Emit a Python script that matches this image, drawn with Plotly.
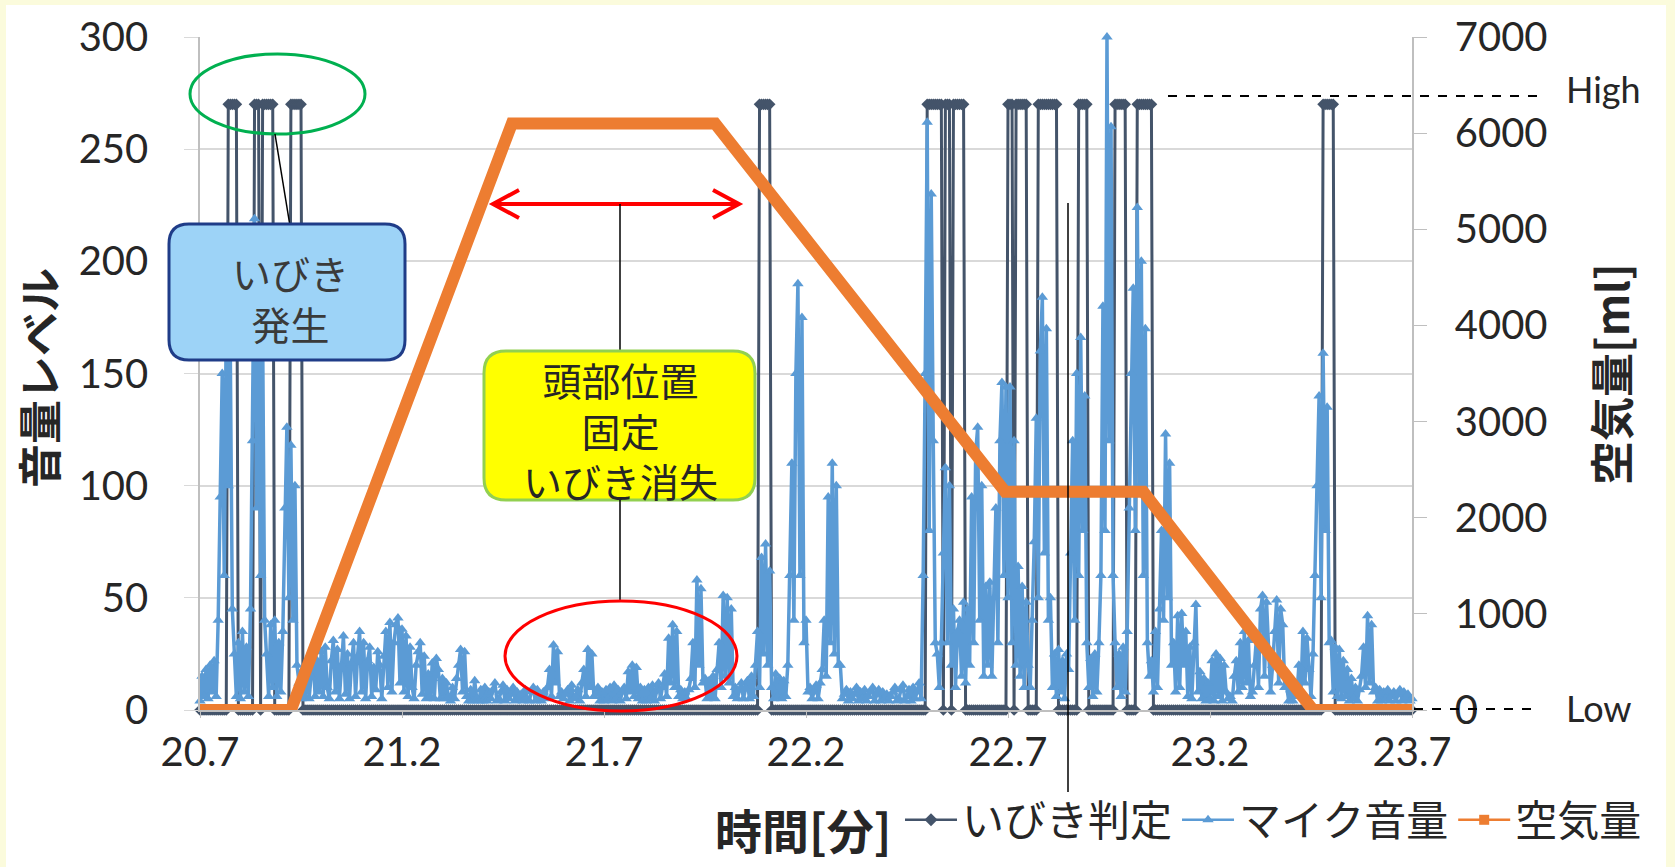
import plotly.graph_objects as go

# ---------------------------------------------------------------- data
# Microphone level, sampled every 0.005 min from 20.700 min
t_start = 20.7
t_step = 0.005
mic_level = [
    4, 15, 6, 18, 5, 20, 8, 22, 6, 40, 95, 150, 60, 175, 100, 160, 45, 25, 6, 30,             # 20.70
    5, 35, 8, 28, 6, 45, 120, 219, 90, 200, 60, 170, 40, 25, 6, 38, 10, 40, 6, 30,            # 20.80
    8, 35, 90, 126, 50, 118, 40, 100, 20, 12, 5, 18, 6, 20, 5, 15, 24, 6, 22, 8,              # 20.90
    26, 6, 28, 10, 5, 22, 31, 8, 27, 5, 20, 33, 7, 25, 5, 21, 30, 6, 24, 35,                  # 21.00
    8, 30, 5, 22, 28, 6, 19, 9, 26, 20, 5, 24, 35, 10, 39, 8, 30, 38, 41, 12,                 # 21.10
    36, 8, 33, 6, 28, 10, 5, 20, 26, 30, 7, 24, 5, 16, 6, 21, 5, 23, 18, 5,                   # 21.20
    14, 5, 12, 6, 4, 10, 5, 14, 20, 27, 8, 26, 6, 4, 9, 4, 13, 5, 4, 9,                       # 21.30
    4, 10, 4, 8, 5, 9, 12, 4, 5, 8, 11, 4, 9, 5, 7, 10, 4, 8, 5, 7,                           # 21.40
    4, 9, 5, 4, 8, 10, 4, 9, 5, 4, 8, 5, 10, 18, 6, 29, 12, 26, 6, 8,                         # 21.50
    5, 7, 9, 4, 11, 5, 6, 9, 4, 12, 18, 6, 27, 10, 25, 6, 7, 10, 4, 8,                        # 21.60
    4, 9, 5, 10, 4, 11, 5, 9, 4, 8, 10, 5, 17, 8, 20, 6, 19, 5, 10, 4,                        # 21.70
    9, 4, 10, 5, 11, 4, 9, 12, 5, 10, 16, 6, 32, 12, 38, 10, 35, 6, 9, 5,                     # 21.80
    8, 5, 9, 14, 30, 10, 58, 20, 54, 12, 14, 5, 13, 6, 15, 5, 18, 30, 10, 51,                 # 21.90
    15, 50, 12, 45, 6, 10, 5, 9, 12, 5, 10, 13, 5, 15, 6, 20, 35, 10, 68, 25,                 # 22.00
    74, 20, 62, 10, 5, 16, 6, 14, 5, 13, 6, 20, 60, 110, 40, 150, 190, 60, 175, 30,           # 22.10
    40, 8, 10, 5, 8, 11, 5, 12, 18, 40, 15, 95, 30, 110, 25, 100, 20, 20, 5, 7,               # 22.20
    9, 4, 8, 5, 7, 10, 4, 8, 5, 9, 4, 6, 8, 10, 4, 7, 9, 4, 8, 5,                             # 22.30
    7, 4, 6, 8, 10, 4, 5, 9, 11, 4, 6, 9, 4, 10, 5, 8, 12, 5, 60, 150,                        # 22.40
    262, 80, 230, 120, 30, 25, 10, 30, 70, 108, 30, 100, 20, 45, 10, 35, 40, 15, 48, 12,      # 22.50
    45, 20, 95, 30, 115, 126, 40, 100, 15, 55, 20, 57, 15, 50, 90, 30, 120, 146, 60, 144,     # 22.60
    50, 144, 30, 120, 20, 64, 15, 55, 10, 48, 20, 10, 40, 75, 130, 50, 160, 184, 70, 170,     # 22.70
    40, 50, 10, 25, 6, 27, 8, 22, 5, 25, 18, 70, 120, 40, 150, 60, 166, 80, 140, 30,          # 22.80
    10, 23, 6, 25, 8, 30, 60, 180, 80, 300, 120, 260, 60, 30, 10, 25, 6, 28, 8, 35,           # 22.90
    90, 150, 188, 80, 224, 100, 200, 60, 170, 30, 15, 22, 8, 35, 10, 45, 80, 40, 123, 50,     # 23.00
    110, 20, 30, 8, 42, 10, 43, 20, 35, 6, 28, 5, 30, 47, 8, 17, 5, 14, 4, 12,                # 23.10
    5, 22, 4, 25, 6, 23, 4, 20, 8, 5, 6, 4, 15, 22, 8, 30, 10, 35, 12, 31,                    # 23.20
    6, 8, 20, 32, 10, 45, 51, 15, 48, 25, 8, 20, 35, 49, 12, 45, 38, 10, 10, 4,               # 23.30
    9, 4, 12, 6, 20, 8, 35, 12, 32, 18, 6, 25, 60, 100, 140, 50, 159, 80, 135, 30,            # 23.40
    31, 8, 28, 6, 27, 5, 22, 6, 18, 4, 14, 5, 10, 4, 9, 15, 28, 10, 42, 12,                   # 23.50
    38, 8, 10, 4, 9, 4, 8, 5, 9, 4, 6, 8, 4, 7, 9, 4, 8, 5, 7, 4,                             # 23.60
    5,                                                                                        # 23.70
]
time_min = [round(t_start + i * t_step, 3) for i in range(len(mic_level))]

# Snore detection: start / end of each detected snore (minutes)
snore_on = [20.770, 20.835, 20.855, 20.925, 22.085, 22.500, 22.545, 22.565,
            22.700, 22.720, 22.775, 22.875, 22.965, 23.020, 23.480]
snore_off = [20.795, 20.850, 20.885, 20.955, 22.115, 22.540, 22.560, 22.595,
             22.715, 22.750, 22.825, 22.900, 22.995, 23.060, 23.510]
snore_high = 270

# Pillow air volume (ml)
air_time = [20.70, 20.925, 21.472, 21.975, 22.693, 23.035, 23.455, 23.70]
air_ml = [0, 0, 6100, 6100, 2270, 2270, 0, 0]

# x-axis tick labels
x_ticks = [20.7, 21.2, 21.7, 22.2, 22.7, 23.2, 23.7]

# ---------------------------------------------------------------- series
on_idx = [round((v - t_start) / t_step) for v in snore_on]
off_idx = [round((v - t_start) / t_step) for v in snore_off]
snore_level = []
for i in range(len(time_min)):
    high = any(a <= i < b for a, b in zip(on_idx, off_idx))
    snore_level.append(snore_high if high else 0)

C_SNORE = "#44546A"
C_MIC = "#5B9BD5"
C_AIR = "#ED7D31"
NUM_FONT = "Lato, 'Noto Sans CJK JP', sans-serif"
JP_FONT = "'Noto Sans CJK JP', sans-serif"
TXT = "#262626"

fig = go.Figure()
fig.add_trace(go.Scatter(
    x=time_min, y=snore_level, name="いびき判定", mode="lines+markers", cliponaxis=False,
    line=dict(color=C_SNORE, width=3), showlegend=False,
    marker=dict(symbol="diamond", size=9, color=C_SNORE, line=dict(width=0)),
))
fig.add_trace(go.Scatter(
    x=time_min, y=mic_level, name="マイク音量", mode="lines+markers", cliponaxis=False,
    line=dict(color=C_MIC, width=3.5), showlegend=False,
    marker=dict(symbol="triangle-up", size=10, color=C_MIC, line=dict(width=0)),
))
fig.add_trace(go.Scatter(
    x=air_time, y=air_ml, name="空気量", mode="lines", yaxis="y2", cliponaxis=False,
    line=dict(color=C_AIR, width=12), showlegend=False,
))

# legend keys: thin line with the series marker
for name, color, symbol in [("いびき判定", C_SNORE, "diamond"),
                            ("マイク音量", C_MIC, "triangle-up"),
                            ("空気量", C_AIR, "square")]:
    fig.add_trace(go.Scatter(
        x=[None], y=[None], name=name, mode="lines+markers",
        line=dict(color=color, width=2.5),
        marker=dict(symbol=symbol, size=10, color=color, line=dict(width=0)),
    ))

# ---------------------------------------------------------------- layout
W, H = 1675, 867
L, R, T, B = 200, 1412, 37, 710


def px(x):
    return (x - L) / (R - L)


def py(y):
    return (B - y) / (B - T)


def rounded_box(x0, y0, x1, y1, r):
    p = [
        f"M {px(x0 + r)},{py(y0)}", f"L {px(x1 - r)},{py(y0)}",
        f"Q {px(x1)},{py(y0)} {px(x1)},{py(y0 + r)}", f"L {px(x1)},{py(y1 - r)}",
        f"Q {px(x1)},{py(y1)} {px(x1 - r)},{py(y1)}", f"L {px(x0 + r)},{py(y1)}",
        f"Q {px(x0)},{py(y1)} {px(x0)},{py(y1 - r)}", f"L {px(x0)},{py(y0 + r)}",
        f"Q {px(x0)},{py(y0)} {px(x0 + r)},{py(y0)}", "Z",
    ]
    return " ".join(p)


def seg(x0, y0, x1, y1, color="black", width=1.5, dash="solid"):
    return dict(type="line", xref="paper", yref="paper",
                x0=px(x0), y0=py(y0), x1=px(x1), y1=py(y1),
                line=dict(color=color, width=width, dash=dash))


def oval(x0, y0, x1, y1, color):
    return dict(type="circle", xref="paper", yref="paper",
                x0=px(x0), y0=py(y1), x1=px(x1), y1=py(y0),
                line=dict(color=color, width=3))


def chevron(tx, ty, dx):
    d = (f"M {px(tx + dx)},{py(ty - 14)} L {px(tx)},{py(ty)} "
         f"L {px(tx + dx)},{py(ty + 14)}")
    return dict(type="path", xref="paper", yref="paper", path=d,
                line=dict(color="#FF0000", width=4))


shapes = [
    # white page on a pale yellow frame
    dict(type="rect", xref="paper", yref="paper", layer="below",
         x0=px(6), x1=px(1666), y0=py(867), y1=py(5),
         fillcolor="white", line=dict(width=0)),
    oval(190, 54, 365, 134, "#00B050"),
    seg(275, 134, 290, 226),
    dict(type="path", xref="paper", yref="paper", path=rounded_box(169, 224, 405, 360, 20),
         fillcolor="#9DD3F7", line=dict(color="#1F3C88", width=3)),
    seg(493, 204, 739, 204, color="#FF0000", width=4),
    chevron(493, 204, 26),
    chevron(739, 204, -26),
    seg(620, 204, 620, 351),
    dict(type="path", xref="paper", yref="paper", path=rounded_box(484, 351, 755, 500, 22),
         fillcolor="#FFFF00", line=dict(color="#92D050", width=3)),
    seg(620, 500, 620, 601),
    oval(505, 601, 737, 711, "#FF0000"),
    seg(1068, 203, 1068, 792),
    seg(1168, 96, 1538, 96, width=2, dash="dash"),
    seg(1414, 709, 1538, 709, width=2, dash="dash"),
]


def label(x, y, text, size, font=JP_FONT, anchor="center", color=TXT, angle=0):
    return dict(xref="paper", yref="paper", x=px(x), y=py(y), text=text,
                showarrow=False, xanchor=anchor, yanchor="middle", textangle=angle,
                font=dict(family=font, size=size, color=color))


annotations = [
    label(290, 297, "いびき<br>発生", 39, color="#3A3A3A"),
    label(620, 430, "頭部位置<br>固定<br>いびき消失", 39),
    label(1564, 89, "High", 36, font=NUM_FONT, anchor="left"),
    label(1564, 708, "Low", 36, font=NUM_FONT, anchor="left"),
    label(38, 378, "<b>音量レベル</b>", 44, angle=-90),
    label(1610, 374, "<b>空気量[ml]</b>", 44, angle=-90),
    label(803, 828, "<b>時間[分]</b>", 47),
]

fig.update_layout(
    width=W, height=H, autosize=False,
    margin=dict(l=L, r=W - R, t=T, b=H - B),
    paper_bgcolor="#FBFBDC", plot_bgcolor="white",
    shapes=shapes, annotations=annotations,
    showlegend=True,
    legend=dict(orientation="h", x=px(900), y=py(820), xanchor="left", yanchor="middle",
                font=dict(family=JP_FONT, size=42, color=TXT),
                bgcolor="rgba(0,0,0,0)", itemwidth=52, tracegroupgap=0),
    xaxis=dict(range=[20.7, 23.7], tickvals=x_ticks, ticktext=[f"{v:.1f}" for v in x_ticks],
               showgrid=False, zeroline=False, showline=True, linecolor="#BFBFBF", linewidth=1.5,
               ticks="outside", ticklen=6, tickcolor="#BFBFBF",
               tickfont=dict(family=NUM_FONT, size=40, color=TXT)),
    yaxis=dict(range=[0, 300], dtick=50, showgrid=True, gridcolor="#D9D9D9", gridwidth=1.5,
               zeroline=False, showline=True, linecolor="#BFBFBF", linewidth=1.5,
               ticks="outside", ticklen=14, tickcolor="#D9D9D9", ticklabelstandoff=28,
               tickfont=dict(family=NUM_FONT, size=40, color=TXT)),
    yaxis2=dict(range=[0, 7000], dtick=1000, overlaying="y", side="right", showgrid=False,
                zeroline=False, showline=True, linecolor="#BFBFBF", linewidth=1.5,
                ticks="outside", ticklen=13, tickcolor="#BFBFBF", ticklabelstandoff=20,
                tickfont=dict(family=NUM_FONT, size=40, color=TXT)),
)

fig.write_html("out.html")
